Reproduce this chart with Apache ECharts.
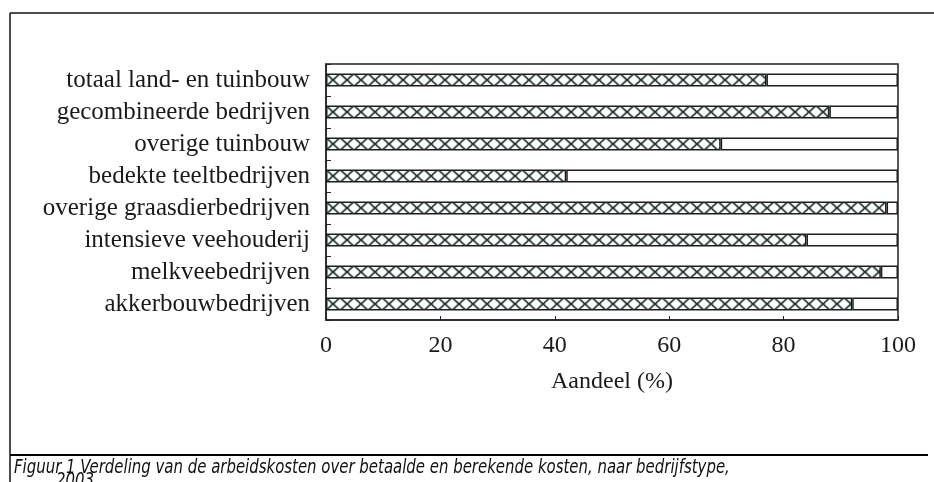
<!DOCTYPE html>
<html>
<head>
<meta charset="utf-8">
<script src="https://cdn.jsdelivr.net/npm/echarts@6.0.0/dist/echarts.min.js"></script>
<style>
  html, body { margin: 0; padding: 0; background: #fff; }
  #chart { width: 934px; height: 482px; }
</style>
</head>
<body>
<div id="chart"></div>
<script>
var categories = [
    'akkerbouwbedrijven',
    'melkveebedrijven',
    'intensieve veehouderij',
    'overige graasdierbedrijven',
    'bedekte teeltbedrijven',
    'overige tuinbouw',
    'gecombineerde bedrijven',
    'totaal land- en tuinbouw'
];
// hatched part and the white rest, in %
var berekend = [92, 97, 84, 98, 42, 69, 88, 77];
var betaald = [8, 3, 16, 2, 58, 31, 12, 23];
var xTicks = [0, 20, 40, 60, 80, 100];

var caption1 = 'Figuur 1 Verdeling van de arbeidskosten over betaalde en berekende kosten, naar bedrijfstype,';
var caption2 = '2003';

// cross hatch tile
var tile = document.createElement('canvas');
tile.width = 14;
tile.height = 16;
var c = tile.getContext('2d');
c.strokeStyle = '#223232';
c.lineWidth = 1.7;
for (var k = -1; k <= 1; k++) {
    c.beginPath();
    c.moveTo(k * 14, 0);
    c.lineTo(k * 14 + 14, 13);
    c.moveTo(k * 14 + 14, 0);
    c.lineTo(k * 14, 13);
    c.stroke();
}

var myChart = echarts.init(document.getElementById('chart'));

var serif = 'Liberation Serif';
var capFont = 'italic 20px "DejaVu Sans Condensed", sans-serif';

option = {
    backgroundColor: '#fff',
    animation: false,
    grid: {
        left: 326,
        top: 64,
        width: 572,
        height: 256,
        show: true,
        borderColor: '#222',
        borderWidth: 1.5
    },
    xAxis: {
        type: 'value',
        min: 0,
        max: 100,
        interval: 20,
        name: 'Aandeel (%)',
        nameLocation: 'middle',
        nameGap: 50,
        nameTextStyle: { fontFamily: serif, fontSize: 24, color: '#1a1a1a' },
        axisLine: { show: true, lineStyle: { color: '#222', width: 1.5 } },
        axisTick: { show: true, inside: true, length: 4, lineStyle: { color: '#222' } },
        axisLabel: {
            margin: 14,
            fontFamily: serif,
            fontSize: 24,
            color: '#1a1a1a',
            formatter: function (v) { return xTicks.indexOf(v) >= 0 ? String(v) : ''; }
        },
        splitLine: { show: false }
    },
    yAxis: {
        type: 'category',
        data: categories,
        axisLine: { show: true, lineStyle: { color: '#222', width: 1.5 } },
        axisTick: { show: true, inside: true, length: 5, interval: 0, lineStyle: { color: '#222' } },
        axisLabel: {
            interval: 0,
            hideOverlap: false,
            margin: 16,
            fontFamily: serif,
            fontSize: 25,
            lineHeight: 25,
            color: '#1a1a1a'
        }
    },
    series: [
        {
            name: 'berekende kosten',
            type: 'bar',
            stack: 'a',
            barWidth: 13,
            data: berekend,
            itemStyle: {
                color: { image: tile, repeat: 'repeat', x: 326, y: 73.5 },
                borderColor: '#1e1e1e',
                borderWidth: 1.5
            }
        },
        {
            name: 'betaalde kosten',
            type: 'bar',
            stack: 'a',
            barWidth: 13,
            data: betaald,
            itemStyle: {
                color: '#fff',
                borderColor: '#1e1e1e',
                borderWidth: 1.5
            }
        }
    ],
    graphic: [
        { type: 'line', shape: { x1: 10, y1: 13, x2: 934, y2: 13 }, style: { stroke: '#111', lineWidth: 1.5 } },
        { type: 'line', shape: { x1: 10, y1: 13, x2: 10, y2: 482 }, style: { stroke: '#111', lineWidth: 1.5 } },
        { type: 'line', shape: { x1: 10, y1: 455, x2: 928, y2: 455 }, style: { stroke: '#000', lineWidth: 2 } },
        {
            type: 'text', x: 14, y: 458, scaleX: 0.83,
            style: { text: caption1, font: capFont, fill: '#111' }
        },
        {
            type: 'text', x: 56, y: 471, scaleX: 0.83,
            style: { text: caption2, font: capFont, fill: '#111' }
        }
    ]
};
myChart.setOption(option);
</script>
</body>
</html>
